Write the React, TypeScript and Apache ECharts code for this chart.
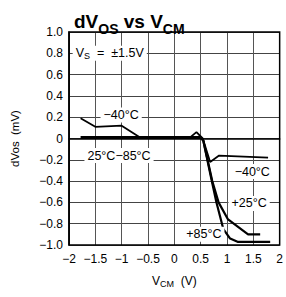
import React, { useEffect, useRef } from "react";
import * as echarts from "echarts";

const xTicks = [-2, -1.5, -1, -0.5, 0, 0.5, 1, 1.5, 2];
const yTicks = [-1, -0.8, -0.6, -0.4, -0.2, 0, 0.2, 0.4, 0.6, 0.8, 1];

const common2585: [number, number][] = [[-1.78, 0.01], [0.5, 0.01]];
const plus25: [number, number][] = [
  [0.5, 0.01], [0.55, -0.02], [0.72, -0.4], [0.84, -0.6], [1.02, -0.76], [1.4, -0.9], [1.63, -0.9],
];
const plus85: [number, number][] = [
  [0.5, 0.01], [0.55, -0.02], [0.69, -0.35], [0.8, -0.6], [0.93, -0.85], [1.06, -0.94], [1.2, -0.97], [1.82, -0.97],
];
const minus40: [number, number][] = [
  [-1.78, 0.19], [-1.5, 0.11], [-1.0, 0.12], [-0.65, 0.01], [0.3, 0.01], [0.42, 0.06], [0.54, 0.0],
  [0.68, -0.22], [0.85, -0.16], [1.78, -0.18],
];

const labels = [
  { text: "{v|V}{s|S}{v|  =  ±1.5V}", x: -1.93, y: 0.8, align: "left" },
  { text: "{v|−40°C}", x: -1.01, y: 0.22, align: "center" },
  { text: "{v|25°C−85°C}", x: -1.05, y: -0.16, align: "center" },
  { text: "{v|−40°C}", x: 1.48, y: -0.31, align: "center" },
  { text: "{v|+25°C}", x: 1.42, y: -0.61, align: "center" },
  { text: "{v|+85°C}", x: 0.56, y: -0.9, align: "center" },
];

const FONT = "'Liberation Sans', Arial, sans-serif";

export default function App() {
  const ref = useRef<HTMLDivElement>(null);
  useEffect(() => {
    document.body.style.margin = "0";
    const chart = echarts.init(ref.current!, null, { renderer: "svg" });
    const fmt = (v: number) => (Math.abs(v) < 1e-9 ? "0" : String(v).replace("-", "−"));
    const fmtY = (v: number) => (Math.abs(v) < 1e-9 ? "0" : v.toFixed(1).replace("-", "−"));
    const lineStyle = (w: number) => ({ color: "#000", width: w });
    chart.setOption({
      animation: false,
      textStyle: { fontFamily: FONT },
      grid: { left: 69, right: 3, top: 32, bottom: 52, containLabel: false },
      title: {
        text: "{b|dV}{s|OS}{b| vs V}{s|CM}",
        left: 69,
        top: 4,
        textStyle: {
          rich: {
            b: { fontSize: 19, fontWeight: "bold", fontFamily: FONT, color: "#000", lineHeight: 22, verticalAlign: "bottom" },
            s: { fontSize: 14, fontWeight: "bold", fontFamily: FONT, color: "#000", lineHeight: 22, verticalAlign: "bottom", padding: [0, 0, -5, 0] },
          },
        },
      },
      xAxis: {
        type: "value",
        min: -2,
        max: 2,
        interval: 0.5,
        name: "{v|V}{s|CM}{v|  (V)}",
        nameLocation: "middle",
        nameGap: 30,
        nameTextStyle: {
          rich: {
            v: { fontSize: 12, color: "#000", fontFamily: FONT },
            s: { fontSize: 9, color: "#000", fontFamily: FONT, padding: [0, 0, -5, 0] },
          },
        },
        axisLine: { show: true, lineStyle: { color: "#000", width: 1.5 } },
        axisTick: { show: false },
        axisLabel: { formatter: fmt, color: "#000", fontSize: 12, margin: 8 },
        splitLine: { show: true, lineStyle: { color: "#555", width: 1 } },
      },
      yAxis: {
        type: "value",
        min: -1,
        max: 1,
        interval: 0.2,
        name: "dVos  (mV)",
        nameLocation: "middle",
        nameGap: 48,
        nameTextStyle: { fontSize: 11.5, color: "#000" },
        axisLine: { show: true, onZero: false, lineStyle: { color: "#000", width: 1.5 } },
        axisTick: { show: false },
        axisLabel: { formatter: fmtY, color: "#000", fontSize: 12, margin: 6 },
        splitLine: { show: true, lineStyle: { color: "#444", width: 1 } },
      },
      series: [
        { type: "line", data: minus40, showSymbol: false, lineStyle: lineStyle(1.8), z: 3 },
        { type: "line", data: common2585, showSymbol: false, lineStyle: lineStyle(3), z: 4 },
        { type: "line", data: plus25, showSymbol: false, lineStyle: lineStyle(2.2), z: 4 },
        { type: "line", data: plus85, showSymbol: false, lineStyle: lineStyle(2.2), z: 4 },
      ],
    });
    const tl = chart.convertToPixel({ gridIndex: 0 }, [-2, 1]) as number[];
    const br = chart.convertToPixel({ gridIndex: 0 }, [2, -1]) as number[];
    const graphics: any[] = [
      {
        type: "rect",
        shape: { x: tl[0], y: tl[1], width: br[0] - tl[0], height: br[1] - tl[1] },
        style: { fill: "none", stroke: "#000", lineWidth: 1.5 },
        z: 100,
      },
    ];
    labels.forEach((l) => {
      const p = chart.convertToPixel({ gridIndex: 0 }, [l.x, l.y]) as number[];
      graphics.push({
        type: "text",
        x: p[0],
        y: p[1],
        z: 50,
        style: {
          text: l.text,
          align: l.align,
          verticalAlign: "middle",
          backgroundColor: "#fff",
          padding: [1, 3],
          rich: {
            v: { fontSize: 12.5, fontFamily: FONT, fill: "#000", color: "#000" },
            s: { fontSize: 9, fontFamily: FONT, fill: "#000", color: "#000", padding: [0, 0, -5, 0] },
          },
        },
      });
    });
    chart.setOption({ graphic: graphics });
    return () => chart.dispose();
  }, []);
  return <div ref={ref} style={{ width: 286, height: 297 }} />;
}
